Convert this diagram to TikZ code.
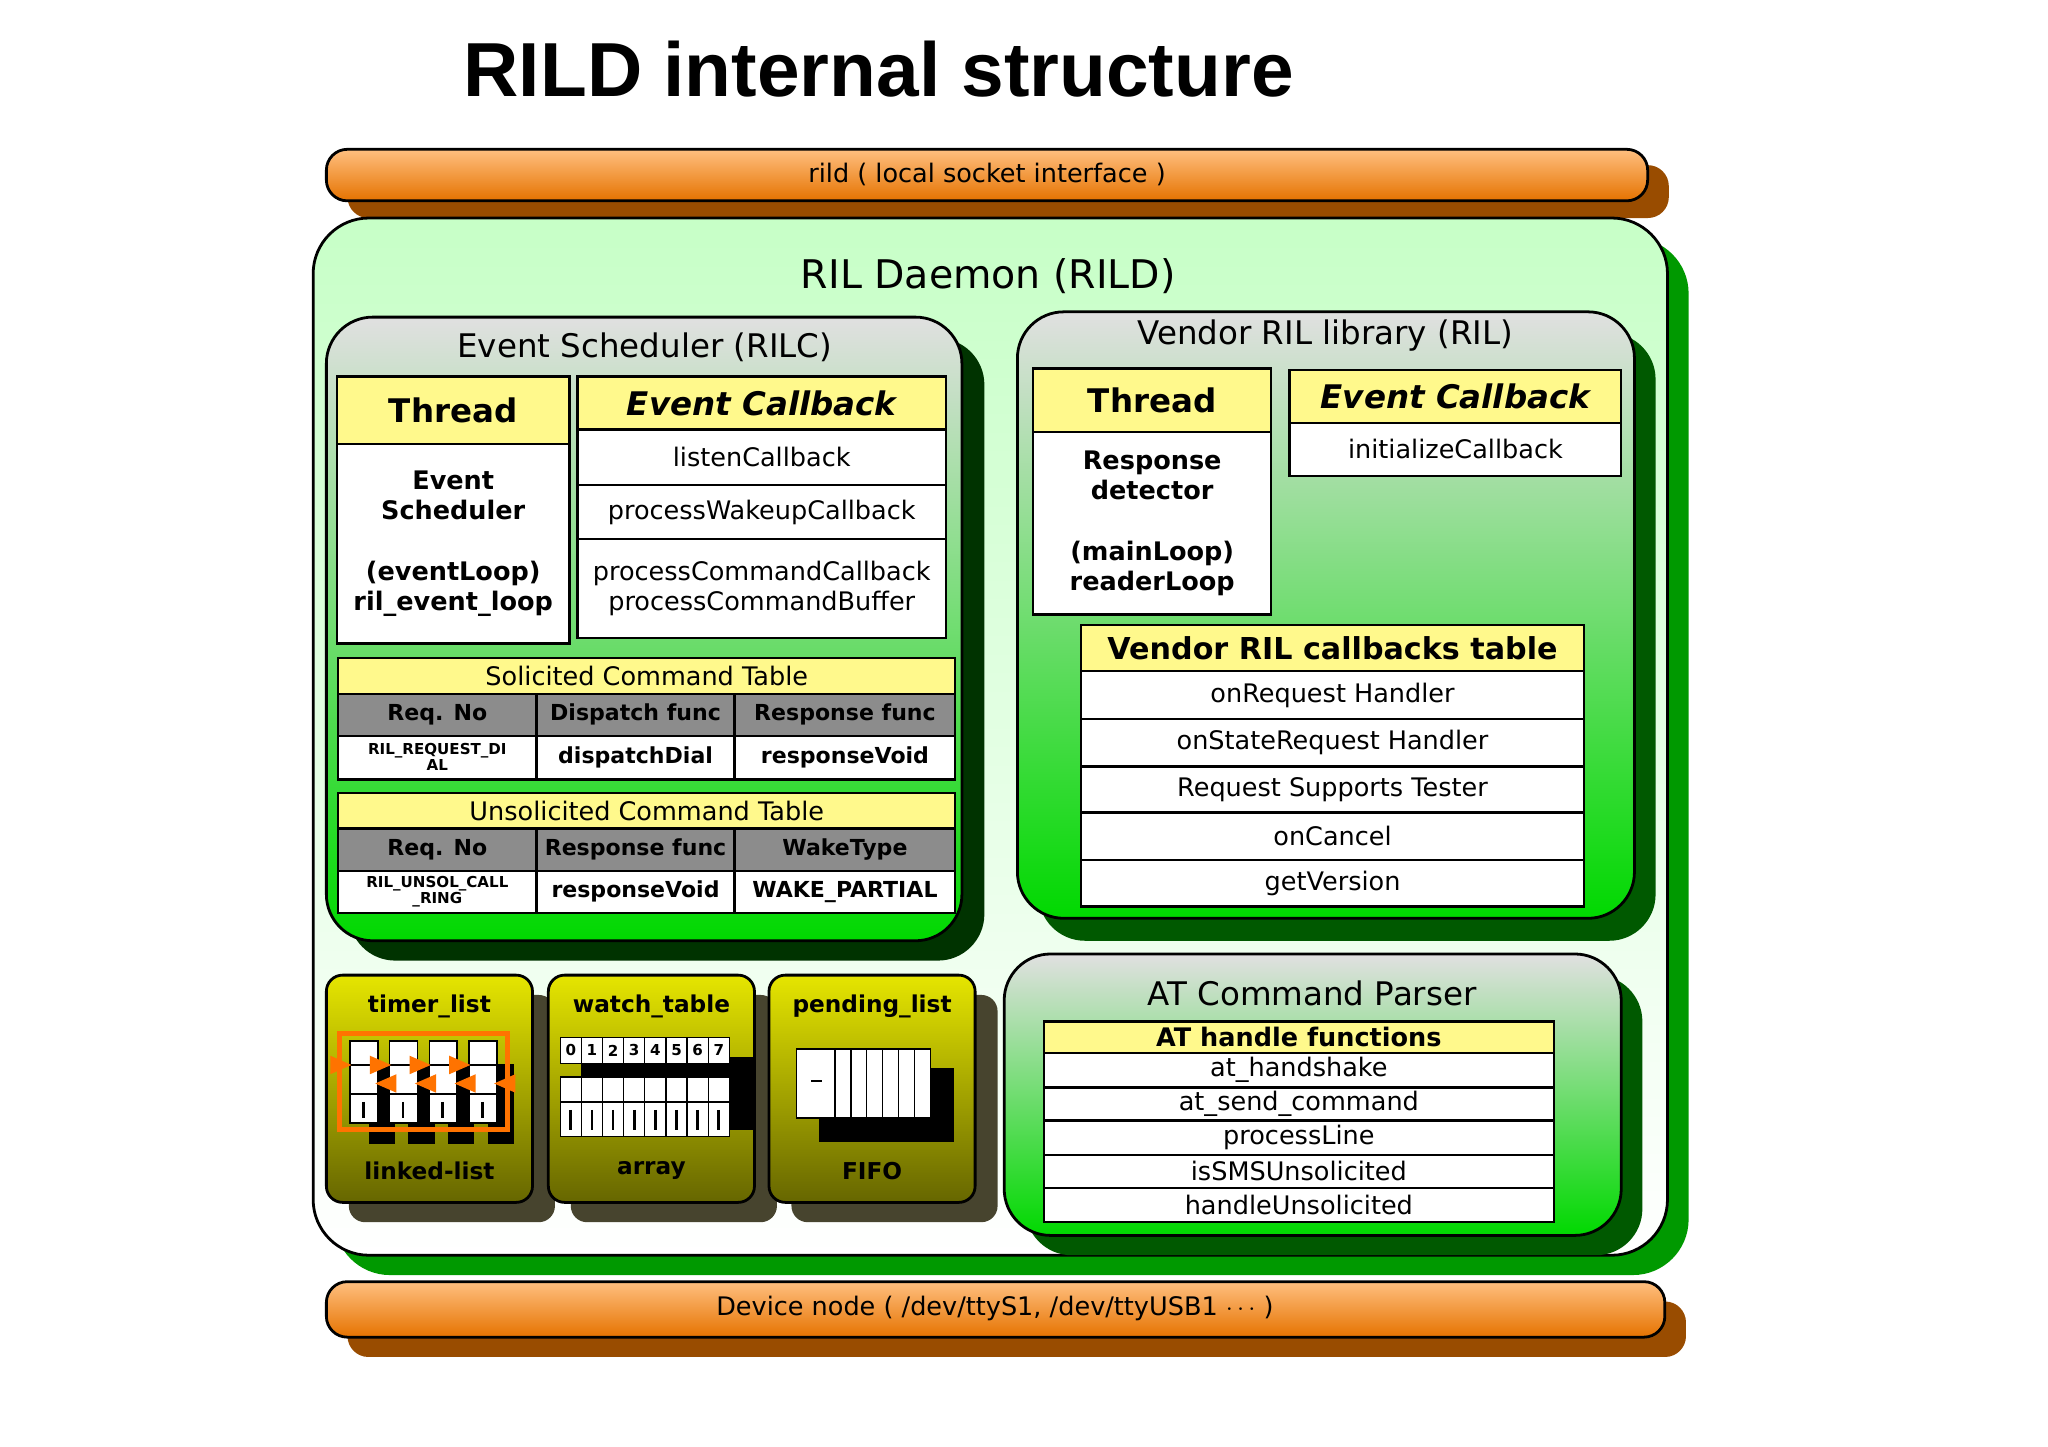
\documentclass[tikz,border=0pt]{standalone}
\usepackage{fontspec}
\setmainfont{DejaVu Sans}
\newfontfamily\titlefont{Liberation Sans}
\begin{document}
\begin{tikzpicture}[x=0.02cm,y=-0.02cm,
  bar/.style={draw=black, line width=1.2pt, rounded corners=9pt, top color=orange!50, bottom color=orange!90!black},
  barshadow/.style={fill=orange!60!black, rounded corners=9pt},
  grp/.style={draw=black, line width=1.2pt, rounded corners=20pt, top color=black!12, bottom color=green!85!black},
  grpshadow/.style={fill=green!35!black, rounded corners=20pt},
  ybox/.style={draw=black, line width=1.2pt, rounded corners=7pt, top color=yellow!90!black, bottom color=olive!80!black},
  yshadow/.style={fill=olive!35!black, rounded corners=7pt},
  hd/.style={draw=black, line width=1pt, fill=yellow!45},
  gh/.style={draw=black, line width=1pt, fill=black!45},
  wc/.style={draw=black, line width=1pt, fill=white},
  ttl/.style={font=\fontsize{14}{16}\selectfont},
  txt/.style={font=\fontsize{11}{13}\selectfont, align=center},
  btxt/.style={font=\fontsize{11}{13}\selectfont\bfseries, align=center},
  stxt/.style={font=\fontsize{6.5}{7}\selectfont\bfseries, align=center}]
\newcommand\tcell[6]{\draw[#5] (#1,#2) rectangle (#3,#4);
  \node[txt] at ({(#1+#3)/2},{(#2+#4)/2}) {#6};}
\newcommand\bcell[6]{\draw[#5] (#1,#2) rectangle (#3,#4);
  \node[btxt] at ({(#1+#3)/2},{(#2+#4)/2}) {#6};}
\useasboundingbox[fill=white] (0,0) rectangle (1550,1095);

% title
\node (title) at (665,52) {\titlefont\fontsize{33}{40}\selectfont\bfseries RILD internal structure};

% top bar
\fill[barshadow] (263,125) rectangle (1263,165);
\draw[bar] (247,113) rectangle (1247,152);
\node[txt] (rild) at (747,132) {rild ( local socket interface )};

% daemon
\fill[fill=green!60!black, rounded corners=24pt] (253,180) rectangle (1278,965);
\draw[line width=1.2pt, rounded corners=24pt, top color=green!22, bottom color=white] (237,165) rectangle (1262,950);
\node[font=\fontsize{17}{20}\selectfont] (rild) at (748,209) {RIL Daemon (RILD)};

% event scheduler
\fill[grpshadow, fill=black!80!green] (264,256) rectangle (745,727);
\draw[grp] (247,240) rectangle (728,712);
\node[ttl] (es) at (488,263) {Event Scheduler (RILC)};
\bcell{255}{285}{431}{336}{hd}{\fontsize{14}{16}\selectfont Thread}
\bcell{255}{336}{431}{487}{wc}{Event\\Scheduler\\[1.2em](eventLoop)\\ril\_event\_loop}
\bcell{437}{285}{716}{325}{hd}{\fontsize{14}{16}\selectfont\itshape Event Callback}
\tcell{437}{325}{716}{367}{wc}{listenCallback}
\tcell{437}{367}{716}{408}{wc}{processWakeupCallback}
\tcell{437}{408}{716}{483}{wc}{processCommandCallback\\processCommandBuffer}
% solicited
\tcell{256}{498}{723}{525}{hd}{Solicited Command Table}
\bcell{256}{525}{406}{557}{gh}{\fontsize{9.5}{12}\selectfont Req. No}
\bcell{406}{525}{556}{557}{gh}{\fontsize{9.5}{12}\selectfont Dispatch func}
\bcell{556}{525}{723}{557}{gh}{\fontsize{9.5}{12}\selectfont Response func}
\draw[wc] (256,557) rectangle (406,590);
\node[stxt] (rq) at (331,573) {RIL\_REQUEST\_DI\\AL};
\bcell{406}{557}{556}{590}{wc}{\fontsize{9.5}{12}\selectfont dispatchDial}
\bcell{556}{557}{723}{590}{wc}{\fontsize{9.5}{12}\selectfont responseVoid}
% unsolicited
\tcell{256}{600}{723}{627}{hd}{Unsolicited Command Table}
\bcell{256}{627}{406}{659}{gh}{\fontsize{9.5}{12}\selectfont Req. No}
\bcell{406}{627}{556}{659}{gh}{\fontsize{9.5}{12}\selectfont Response func}
\bcell{556}{627}{723}{659}{gh}{\fontsize{9.5}{12}\selectfont WakeType}
\draw[wc] (256,659) rectangle (406,691);
\node[stxt] (ur) at (331,675) {RIL\_UNSOL\_CALL\\\_RING};
\bcell{406}{659}{556}{691}{wc}{\fontsize{9.5}{12}\selectfont responseVoid}
\bcell{556}{659}{723}{691}{wc}{\fontsize{9.5}{12}\selectfont WAKE\_PARTIAL}

% vendor RIL
\fill[grpshadow] (786,252) rectangle (1253,712);
\draw[grp] (770,236) rectangle (1237,695);
\node[ttl] (vr) at (1003,254) {Vendor RIL library (RIL)};
\bcell{782}{279}{962}{327}{hd}{\fontsize{14}{16}\selectfont Thread}
\bcell{782}{327}{962}{465}{wc}{Response\\detector\\[1.2em](mainLoop)\\readerLoop}
\bcell{976}{280}{1227}{320}{hd}{\fontsize{14}{16}\selectfont\itshape Event Callback}
\tcell{976}{320}{1227}{360}{wc}{initializeCallback}
\bcell{818}{473}{1199}{508}{hd}{\fontsize{13}{16}\selectfont Vendor RIL callbacks table}
\tcell{818}{508}{1199}{544}{wc}{onRequest Handler}
\tcell{818}{544}{1199}{580}{wc}{onStateRequest Handler}
\tcell{818}{580}{1199}{615}{wc}{Request Supports Tester}
\tcell{818}{615}{1199}{651}{wc}{onCancel}
\tcell{818}{651}{1199}{686}{wc}{getVersion}

% AT command parser
\fill[grpshadow] (776,738) rectangle (1243,950);
\draw[grp] (760,722) rectangle (1227,935);
\node[ttl] (at) at (993,752) {AT Command Parser};
\bcell{790}{773}{1176}{797}{hd}{AT handle functions}
\tcell{790}{797}{1176}{823}{wc}{at\_handshake}
\tcell{790}{823}{1176}{848}{wc}{at\_send\_command}
\tcell{790}{848}{1176}{874}{wc}{processLine}
\tcell{790}{874}{1176}{899}{wc}{isSMSUnsolicited}
\tcell{790}{899}{1176}{925}{wc}{handleUnsolicited}

% small containers
\foreach \x/\a/\b/\n in {247/timer\_list/linked-list/tl, 415/watch\_table/array/wt, 582/pending\_list/FIFO/pl} {
  \fill[yshadow] (\x+17,753) rectangle (\x+173,925);
  \draw[ybox] (\x,738) rectangle (\x+156,910);
  \node[btxt, font=\fontsize{10}{12}\selectfont\bfseries] (\n-t) at (\x+78,762) {\a};
  \node[btxt, font=\fontsize{10}{12}\selectfont\bfseries] (\n-b) at (\x+78,886) {\b};
}
% linked list icon
\foreach \i in {0,...,3} {
  \fill[black] ({279+\i*30},805) rectangle ({279+\i*30+20},866);
  \draw[wc, line width=0.6pt] ({265+\i*30},788) rectangle ({265+\i*30+21},806);
  \draw[wc, line width=0.6pt] ({265+\i*30},806) rectangle ({265+\i*30+21},828);
  \draw[wc, line width=0.6pt] ({265+\i*30},828) rectangle ({265+\i*30+21},850);
  \draw[line width=1.2pt] ({275+\i*30},834) -- ({275+\i*30},846);
}
\draw[orange!90!red, line width=2pt] (257,782) rectangle (384,855);
\foreach \i in {0,...,3} {
  \fill[orange!90!red] ({250+\i*30},799) -- ({266+\i*30},806) -- ({250+\i*30},813) -- cycle;
  \fill[orange!90!red] ({300+\i*30},813) -- ({284+\i*30},820) -- ({300+\i*30},827) -- cycle;
}
% array icon
\fill[black] (440,800) rectangle (571,855);
\foreach \i in {0,...,7} {
  \draw[wc, line width=0.6pt] ({424+\i*16},785) rectangle ({424+\i*16+16},805);
  \node[font=\fontsize{6.5}{7}\selectfont\bfseries] at ({432+\i*16},795) {\i};
  \draw[wc, line width=0.6pt] ({424+\i*16},815) rectangle ({424+\i*16+16},834);
  \draw[wc, line width=0.6pt] ({424+\i*16},834) rectangle ({424+\i*16+16},860);
  \draw[line width=1.2pt] ({432+\i*16},840) -- ({432+\i*16},855);
}
% fifo icon
\fill[black] (620,808) rectangle (722,864);
\draw[wc, line width=0.6pt] (603,794) rectangle (632,846);
\foreach \i in {0,...,5} { \draw[wc, line width=0.6pt] ({632+\i*12},794) rectangle ({632+\i*12+12},846); }
\draw[line width=1pt] (614,818) -- (622,818);

% bottom bar
\fill[barshadow] (263,985) rectangle (1276,1027);
\draw[bar] (247,970) rectangle (1260,1012);
\node[txt] (dev) at (753,990) {Device node ( /dev/ttyS1, /dev/ttyUSB1 $\cdots$ )};
\end{tikzpicture}
\end{document}
